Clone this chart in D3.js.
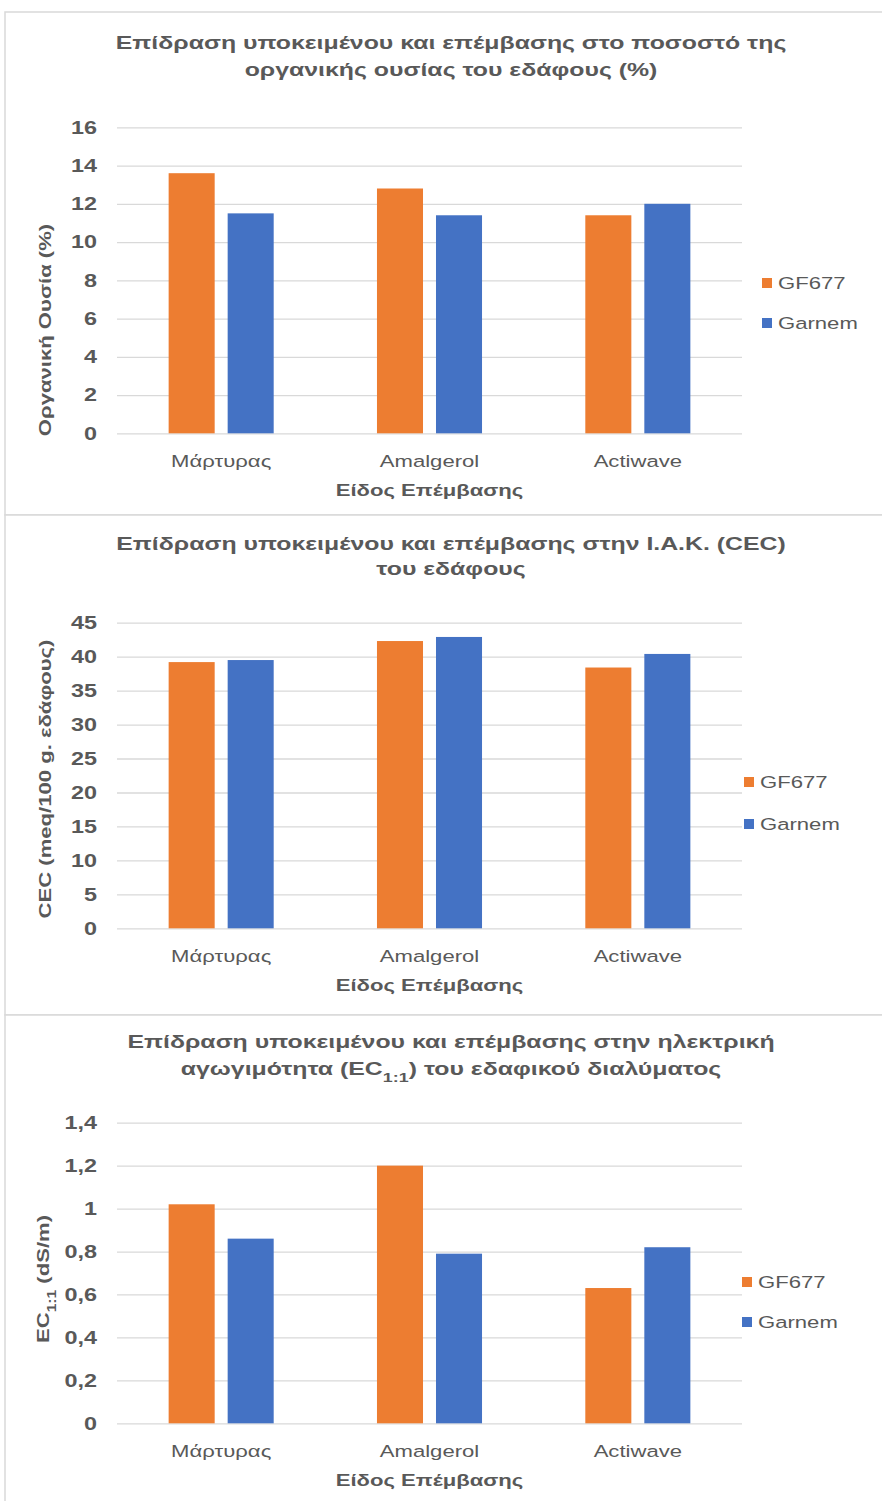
<!DOCTYPE html>
<html>
<head>
<meta charset="utf-8">
<script src="https://cdn.jsdelivr.net/npm/d3@7/dist/d3.min.js"></script>
<style>
  html, body { margin: 0; padding: 0; background: #ffffff; }
  svg { display: block; }
  text { font-family: "Liberation Sans", Arial, sans-serif; fill: #595959; }
</style>
</head>
<body>
<svg id="chart" width="882" height="1501"></svg>
<script>
// ---- Data ----
const categories = ["Μάρτυρας", "Amalgerol", "Actiwave"];
const seriesNames = ["GF677", "Garnem"];
const seriesColors = ["#ED7D31", "#4472C4"];

// Organic matter (%)
const organicGF677 = [13.6, 12.8, 11.4];
const organicGarnem = [11.5, 11.4, 12.0];
const organicTicks = [0, 2, 4, 6, 8, 10, 12, 14, 16];

// Cation exchange capacity (meq/100 g soil)
const cecGF677 = [39.2, 42.3, 38.4];
const cecGarnem = [39.5, 42.9, 40.4];
const cecTicks = [0, 5, 10, 15, 20, 25, 30, 35, 40, 45];

// Electrical conductivity EC1:1 (dS/m)
const ecGF677 = [1.02, 1.2, 0.63];
const ecGarnem = [0.86, 0.79, 0.82];
const ecTicks = [0, 0.2, 0.4, 0.6, 0.8, 1.0, 1.2, 1.4];

const xAxisTitle = "Είδος Επέμβασης";

// ---- Layout ----
const svg = d3.select("#chart");
const K = 1.3;              // horizontal widening of the lettering
const KT = 1.38;            // widening used for the chart titles
const plotLeft = 117, plotRight = 742;

const panels = [
  {
    top: 12, bottom: 515,
    title: [["Επίδραση υποκειμένου και επέμβασης στο ποσοστό της"], ["οργανικής ουσίας του εδάφους (%)"]],
    titleY: [49, 76],
    yTitle: [["Οργανική Ουσία (%)"]], yTitleX: 45, yTitleY: 330,
    values: [organicGF677, organicGarnem], ticks: organicTicks,
    yTop: 127.3, yBottom: 433.3, fmt: d => String(d),
    legendX: 762, legendY: [283, 323]
  },
  {
    top: 515, bottom: 1015,
    title: [["Επίδραση υποκειμένου και επέμβασης στην Ι.Α.Κ. (CEC)"], ["του εδάφους"]],
    titleY: [550, 575],
    yTitle: [["CEC (meq/100 g. εδάφους)"]], yTitleX: 45, yTitleY: 779,
    values: [cecGF677, cecGarnem], ticks: cecTicks,
    yTop: 622.7, yBottom: 928.3, fmt: d => String(d),
    legendX: 744, legendY: [782, 824]
  },
  {
    top: 1015, bottom: 1540,
    title: [["Επίδραση υποκειμένου και επέμβασης στην ηλεκτρική"],
            ["αγωγιμότητα (EC", "1:1", ") του εδαφικού διαλύματος"]],
    titleY: [1048, 1075],
    yTitle: [["EC", "1:1", " (dS/m)"]], yTitleX: 43, yTitleY: 1279,
    values: [ecGF677, ecGarnem], ticks: ecTicks,
    yTop: 1122.7, yBottom: 1423.3, fmt: d => d3.format(".1~f")(d).replace(".", ","),
    legendX: 742, legendY: [1282, 1322]
  }
];

// Writes a text whose middle parts can be subscripts: parts = [normal, sub, normal, ...]
function richText(sel, parts, subSize) {
  parts.forEach((p, i) => {
    const t = sel.append("tspan").text(p);
    if (i % 2 === 1) {
      t.attr("font-size", subSize).attr("baseline-shift", "sub");
    }
  });
  return sel;
}

panels.forEach(p => {
  const g = svg.append("g");

  // Panel frame
  g.append("rect")
    .attr("x", 5).attr("y", p.top)
    .attr("width", 900).attr("height", p.bottom - p.top)
    .attr("fill", "#ffffff")
    .attr("stroke", "#d9d9d9").attr("stroke-width", 1.5);

  // Scales
  const x = d3.scaleBand().domain(categories).range([plotLeft, plotRight]);
  const xs = d3.scaleBand().domain(seriesNames).range([0, x.bandwidth()])
    .paddingInner(0.22).paddingOuter(0.875);
  const y = d3.scaleLinear().domain([0, d3.max(p.ticks)]).range([p.yBottom, p.yTop]);

  // Gridlines and value labels
  const yAxis = g.append("g")
    .attr("transform", `translate(${plotLeft},0)`)
    .call(d3.axisLeft(y).tickValues(p.ticks).tickFormat(p.fmt)
      .tickSize(-(plotRight - plotLeft)).tickPadding(0));
  yAxis.select(".domain").remove();
  yAxis.selectAll(".tick line").attr("stroke", "#d9d9d9").attr("stroke-width", 1.3);
  yAxis.selectAll(".tick text")
    .attr("x", -20 / K)
    .attr("transform", `scale(${K},1)`)
    .attr("font-size", 18).attr("font-weight", "bold")
    .attr("fill", "#595959");

  // Bars
  seriesNames.forEach((s, si) => {
    g.append("g").selectAll("rect")
      .data(p.values[si])
      .join("rect")
      .attr("x", (d, i) => x(categories[i]) + xs(s))
      .attr("width", xs.bandwidth())
      .attr("y", d => y(d))
      .attr("height", d => y(0) - y(d))
      .attr("fill", seriesColors[si]);
  });

  // Category labels
  const xAxis = g.append("g")
    .attr("transform", `translate(0,${p.yBottom})`)
    .call(d3.axisBottom(x).tickSize(0).tickPadding(0));
  xAxis.select(".domain").remove();
  xAxis.selectAll(".tick text")
    .attr("y", 34).attr("dy", 0)
    .attr("transform", `scale(${K},1)`)
    .attr("font-size", 17)
    .attr("fill", "#595959");

  // Axis titles
  g.append("text")
    .attr("transform", `translate(${(plotLeft + plotRight) / 2},${p.yBottom + 63}) scale(${K},1)`)
    .attr("text-anchor", "middle")
    .attr("font-size", 17).attr("font-weight", "bold")
    .text(xAxisTitle);

  const yt = g.append("text")
    .attr("transform", `translate(${p.yTitleX},${p.yTitleY}) rotate(-90) scale(${K},1)`)
    .attr("text-anchor", "middle").attr("dy", "0.35em")
    .attr("font-size", 17).attr("font-weight", "bold");
  richText(yt, p.yTitle[0], 12);

  // Chart title
  p.title.forEach((line, li) => {
    const t = g.append("text")
      .attr("transform", `translate(451,${p.titleY[li]}) scale(${KT},1)`)
      .attr("text-anchor", "middle")
      .attr("font-size", 18).attr("font-weight", "bold");
    richText(t, line, 13);
  });

  // Legend
  const lg = g.append("g");
  seriesNames.forEach((s, si) => {
    lg.append("rect")
      .attr("x", p.legendX).attr("y", p.legendY[si] - 5)
      .attr("width", 10).attr("height", 10)
      .attr("fill", seriesColors[si]);
    lg.append("text")
      .attr("transform", `translate(${p.legendX + 16},${p.legendY[si]}) scale(${K},1)`)
      .attr("dy", "0.35em")
      .attr("font-size", 17)
      .text(s);
  });
});
</script>
</body>
</html>
